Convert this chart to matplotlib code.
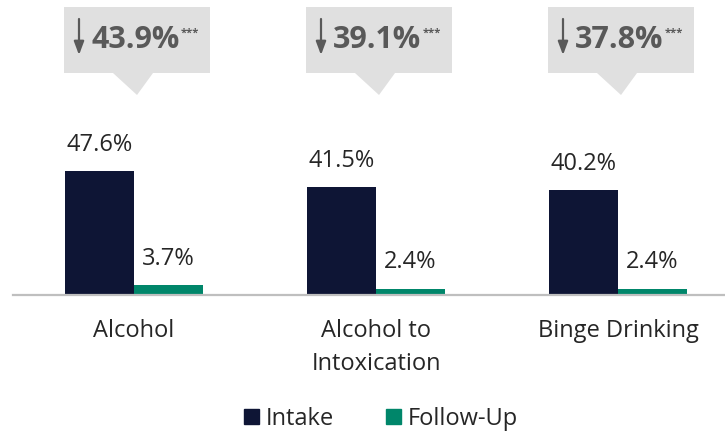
import matplotlib
matplotlib.use("Agg")
import matplotlib.pyplot as plt
from matplotlib.patches import Polygon, Patch
import numpy as np

categories = ["Alcohol", "Alcohol to\nIntoxication", "Binge Drinking"]
intake = [47.6, 41.5, 40.2]
follow_up = [3.7, 2.4, 2.4]
reductions = ["43.9%", "39.1%", "37.8%"]
significance = ["***", "***", "***"]
series_names = ["Intake", "Follow-Up"]

C_INTAKE = "#0e1535"
C_FOLLOW = "#00866a"
C_BOX = "#e0e0e0"
C_CALL = "#595959"
C_TEXT = "#262626"

plt.rcParams['font.family'] = ['Open Sans', 'DejaVu Sans']

W, H = 725, 432
fig = plt.figure(figsize=(W / 100, H / 100), dpi=100)
base_px = 295          # baseline from top
left_px = 13
ax = fig.add_axes([left_px / W, (H - base_px) / H, (W - left_px) / W, base_px / H])

pxu = 242.0            # pixels per group
ppp = 2.6              # pixels per percent
x = np.arange(len(categories))
xmax = (W - 134) / pxu
ax.set_xlim(-0.5, xmax)
ax.set_ylim(0, base_px / ppp)

bw = 69 / pxu
b1 = ax.bar(x - bw / 2, intake, bw, color=C_INTAKE, zorder=2)
b2 = ax.bar(x + bw / 2, follow_up, bw, color=C_FOLLOW, zorder=2)

for bars, vals in ((b1, intake), (b2, follow_up)):
    for r, v in zip(bars, vals):
        ax.annotate(f"{v:.1f}%", xy=(r.get_x() + r.get_width() / 2, v),
                    xytext=(0, 10.5), textcoords="offset points",
                    ha="center", va="bottom", fontsize=17, color=C_TEXT)

# axis styling
for s in ["top", "right", "left"]:
    ax.spines[s].set_visible(False)
ax.spines["bottom"].set_color("#bfbfbf")
ax.spines["bottom"].set_linewidth(1.6)
ax.set_yticks([])
ax.set_xticks(x)
ax.set_xticklabels(categories, fontsize=17, color=C_TEXT, linespacing=1.5)
ax.tick_params(axis="x", length=0, pad=17)

# callouts
def px2y(p):
    return (base_px - p) / ppp

for c, red, sig in zip(x, reductions, significance):
    bx0, bx1 = c - 70 / pxu, c + 76 / pxu
    by0, by1 = px2y(73), px2y(7)
    ax.add_patch(Polygon([[bx0, by0], [bx1, by0], [bx1, by1], [bx0, by1]],
                         closed=True, color=C_BOX, lw=0, zorder=1, clip_on=False))
    ax.add_patch(Polygon([[c - 21 / pxu, by0], [c + 19 / pxu, by0], [c + 3 / pxu, px2y(95)]],
                         closed=True, color=C_BOX, lw=0, zorder=1, clip_on=False))
    t = ax.text(c + 1.5 / pxu, px2y(40), red, ha="center", va="center",
                fontsize=22, fontweight="bold", color=C_CALL, zorder=3)
    ax.annotate(sig, xy=(1, 1), xycoords=t, xytext=(1, -2), textcoords="offset points",
                ha="left", va="top", fontsize=8, fontweight="bold", color=C_CALL)
    ax.annotate("", xy=(c - 55 / pxu, px2y(55)), xytext=(c - 55 / pxu, px2y(19)),
                arrowprops=dict(arrowstyle="-|>,head_length=0.8,head_width=0.3",
                                lw=1.6, color=C_CALL, shrinkA=0, shrinkB=0), zorder=3)

handles = [Patch(color=C_INTAKE), Patch(color=C_FOLLOW)]
fig.legend(handles, series_names, loc="center", bbox_to_anchor=(381 / W, (H - 419) / H),
           ncol=2, frameon=False, fontsize=17, handlelength=0.62, handleheight=0.62,
           handletextpad=0.3, columnspacing=2.2, labelcolor=C_TEXT)

fig.savefig("out.png", dpi=100)
